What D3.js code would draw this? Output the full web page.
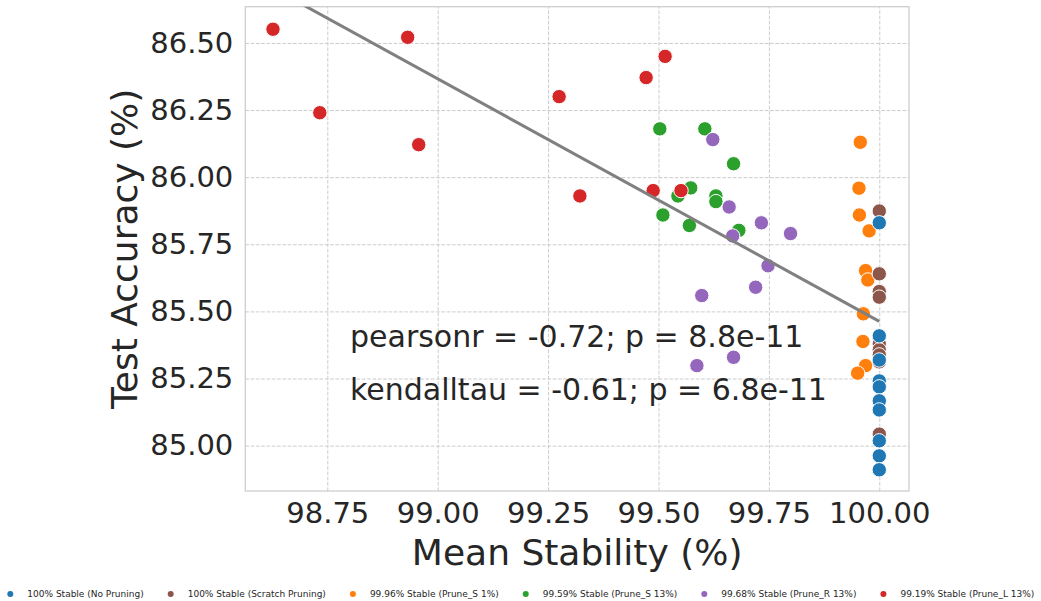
<!DOCTYPE html>
<html>
<head>
<meta charset="utf-8">
<script src="https://cdn.jsdelivr.net/npm/d3@7"></script>
<style>
  body { margin: 0; background: #fff; }
  text { font-family: "DejaVu Sans", sans-serif; fill: #262626; }
</style>
</head>
<body>
<div id="chart-area"></div>
<script>
const W = 1041
const H = 601
const PLOT = { LEFT: 245.3, RIGHT: 909, TOP: 6.7, BOTTOM: 491 }

// tick values
const xTicks = [98.75, 99.0, 99.25, 99.5, 99.75, 100.0]
const yTicks = [85.0, 85.25, 85.5, 85.75, 86.0, 86.25, 86.5]

// series: names, colours, values
const seriesNames = [
  "100% Stable (No Pruning)",
  "100% Stable (Scratch Pruning)",
  "99.96% Stable (Prune_S 1%)",
  "99.59% Stable (Prune_S 13%)",
  "99.68% Stable (Prune_R 13%)",
  "99.19% Stable (Prune_L 13%)"
]
const seriesColors = ["#1f77b4", "#8c564b", "#ff7f0e", "#2ca02c", "#9467bd", "#d62728"]

const noPruneX = [100, 100, 100, 100, 100, 100, 100, 100, 100, 100]
const noPruneY = [85.830, 85.409, 85.319, 85.241, 85.219, 85.167, 85.133, 85.018, 84.962, 84.910]

const scratchX = [100, 100, 100, 100, 100, 100, 100, 100, 100, 100]
const scratchY = [85.874, 85.640, 85.574, 85.553, 85.400, 85.379, 85.357, 85.338, 85.312, 85.043]

const pruneS1X = [99.957, 99.954, 99.955, 99.977, 99.969, 99.974, 99.964, 99.963, 99.969, 99.951]
const pruneS1Y = [86.130, 85.959, 85.859, 85.800, 85.652, 85.617, 85.491, 85.388, 85.298, 85.270]

const pruneS13X = [99.503, 99.605, 99.670, 99.573, 99.544, 99.630, 99.630, 99.510, 99.570, 99.682]
const pruneS13Y = [86.180, 86.180, 86.050, 85.960, 85.930, 85.930, 85.909, 85.859, 85.820, 85.802]

const pruneR13X = [99.623, 99.660, 99.733, 99.799, 99.668, 99.748, 99.720, 99.598, 99.670, 99.587]
const pruneR13Y = [86.140, 85.889, 85.830, 85.790, 85.781, 85.670, 85.590, 85.559, 85.329, 85.298]

const pruneL13X = [98.627, 98.733, 98.932, 98.957, 99.275, 99.322, 99.472, 99.515, 99.488, 99.551]
const pruneL13Y = [86.551, 86.240, 86.521, 86.121, 86.300, 85.930, 86.371, 86.450, 85.950, 85.950]

const statLines = [
  "pearsonr = -0.72; p = 8.8e-11",
  "kendalltau = -0.61; p = 6.8e-11"
]

const seriesX = [noPruneX, scratchX, pruneS1X, pruneS13X, pruneR13X, pruneL13X]
const seriesY = [noPruneY, scratchY, pruneS1Y, pruneS13Y, pruneR13Y, pruneL13Y]

const points = []
seriesX.forEach((xs, i) => {
  xs.forEach((xv, j) => points.push({ s: i, x: xv, y: seriesY[i][j] }))
})

// draw order: later series on top
const drawOrder = [2, 3, 4, 5, 1, 0]

const svg = d3.select("#chart-area").append("svg")
  .attr("width", W)
  .attr("height", H)

const x = d3.scaleLinear()
  .domain([98.5643, 100.0673])
  .range([PLOT.LEFT, PLOT.RIGHT])

const y = d3.scaleLinear()
  .domain([84.831, 86.635])
  .range([PLOT.BOTTOM, PLOT.TOP])

svg.append("defs").append("clipPath")
  .attr("id", "plot-clip")
  .append("rect")
    .attr("x", PLOT.LEFT)
    .attr("y", PLOT.TOP)
    .attr("width", PLOT.RIGHT - PLOT.LEFT)
    .attr("height", PLOT.BOTTOM - PLOT.TOP)

// grid
const xAxisGroup = svg.append("g")
  .attr("class", "x axis")
  .attr("transform", `translate(0, ${PLOT.BOTTOM})`)
  .call(d3.axisBottom(x)
    .tickValues(xTicks)
    .tickSize(-(PLOT.BOTTOM - PLOT.TOP))
    .tickPadding(11)
    .tickFormat(d3.format(".2f")))

const yAxisGroup = svg.append("g")
  .attr("class", "y axis")
  .attr("transform", `translate(${PLOT.LEFT}, 0)`)
  .call(d3.axisLeft(y)
    .tickValues(yTicks)
    .tickSize(-(PLOT.RIGHT - PLOT.LEFT))
    .tickPadding(12)
    .tickFormat(d3.format(".2f")))

svg.selectAll(".axis .domain").remove()
svg.selectAll(".axis .tick line")
  .attr("stroke", "#cccccc")
  .attr("stroke-width", 1)
  .attr("stroke-dasharray", "3.7,1.6")
svg.selectAll(".axis .tick text")
  .attr("font-size", "29px")
  .attr("fill", "#262626")
xAxisGroup.selectAll(".tick text").attr("dy", "0.72em")

// spines
svg.append("rect")
  .attr("x", PLOT.LEFT)
  .attr("y", PLOT.TOP)
  .attr("width", PLOT.RIGHT - PLOT.LEFT)
  .attr("height", PLOT.BOTTOM - PLOT.TOP)
  .attr("fill", "none")
  .attr("stroke", "#cccccc")
  .attr("stroke-width", 1.25)

// points
const pg = svg.append("g").attr("clip-path", "url(#plot-clip)")
drawOrder.forEach(si => {
  pg.selectAll(`circle.s${si}`)
    .data(points.filter(p => p.s === si))
    .enter().append("circle")
      .attr("class", `s${si}`)
      .attr("cx", d => x(d.x))
      .attr("cy", d => y(d.y))
      .attr("r", 7.2)
      .attr("fill", seriesColors[si])
      .attr("stroke", "#ffffff")
      .attr("stroke-width", 1)
})

// least squares fit over all points
const mx = d3.mean(points, d => d.x)
const my = d3.mean(points, d => d.y)
const slope = d3.sum(points, d => (d.x - mx) * (d.y - my)) / d3.sum(points, d => (d.x - mx) ** 2)
const intercept = my - slope * mx
const xExt = d3.extent(points, d => d.x)
const fit = xExt.map(v => ({ x: v, y: intercept + slope * v }))

pg.append("path")
  .datum(fit)
  .attr("fill", "none")
  .attr("stroke", "#808080")
  .attr("stroke-width", 3)
  .attr("d", d3.line().x(d => x(d.x)).y(d => y(d.y)))

// stats text
svg.selectAll("text.stat")
  .data(statLines)
  .enter().append("text")
    .attr("class", "stat")
    .attr("x", 350)
    .attr("y", (d, i) => 347 + i * 53)
    .attr("font-size", "30px")
    .text(d => d)

// axis labels
svg.append("text")
  .attr("x", (PLOT.LEFT + PLOT.RIGHT) / 2)
  .attr("y", 565)
  .attr("font-size", "36px")
  .attr("text-anchor", "middle")
  .text("Mean Stability (%)")

svg.append("text")
  .attr("transform", `translate(137, ${(PLOT.TOP + PLOT.BOTTOM) / 2}) rotate(-90)`)
  .attr("font-size", "36px")
  .attr("text-anchor", "middle")
  .text("Test Accuracy (%)")

// legend
const legend = svg.append("g").attr("class", "legend")
let cursor = 10.3
seriesNames.forEach((name, i) => {
  legend.append("circle")
    .attr("cx", cursor)
    .attr("cy", 594)
    .attr("r", 3)
    .attr("fill", seriesColors[i])
  const t = legend.append("text")
    .attr("x", cursor + 17)
    .attr("y", 597.3)
    .attr("font-size", "9px")
    .attr("fill", "#333")
    .text(name)
  cursor = cursor + 17 + t.node().getComputedTextLength() + 27
})
</script>
</body>
</html>
